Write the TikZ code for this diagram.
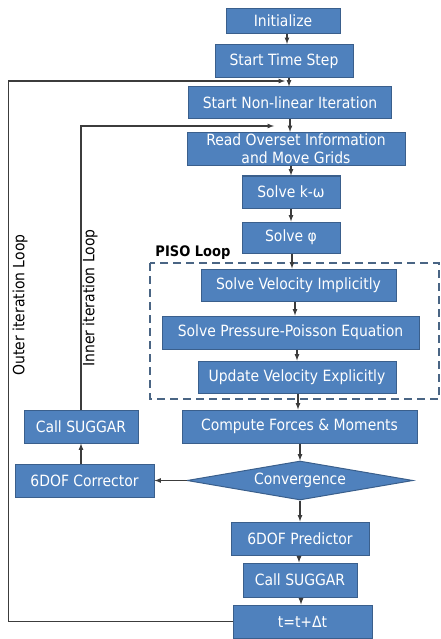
\documentclass[tikz,border=0pt]{standalone}
\usepackage{fontspec}
\setmainfont{DejaVu Sans Condensed}
\usetikzlibrary{shapes.geometric}
\definecolor{boxblue}{HTML}{4F81BD}
\definecolor{boxedge}{HTML}{3A5F8C}
\definecolor{pisoedge}{HTML}{4A6584}
\definecolor{lineg}{HTML}{3C3C3C}

\begin{document}
\begin{tikzpicture}[x=1pt,y=-1pt]
				\tikzstyle{every node}=[font=\fontsize{15.5}{18}\selectfont]
				\tikzstyle{box}=[draw=boxedge,fill=boxblue,text=white,line width=1pt,
				inner sep=0pt,minimum height=33pt]
				\tikzstyle{decision}=[box,diamond,aspect=5.8,inner sep=0pt]
				\tikzstyle{line}=[draw=lineg,line width=1.2pt]
				\tikzstyle{arr}=[line,-latex]
				\tikzstyle{looplbl}=[rotate=90,text=black]
				\useasboundingbox (0,0) rectangle (441,639);
				\node[box,minimum width=114pt,minimum height=25pt] (init) at (283,21) {Initialize};
				\node[box,minimum width=138pt] (start) at (284,61) {Start Time Step};
				\node[box,minimum width=203pt,minimum height=32pt] (nonlin) at (290,103) {Start Non-linear Iteration};
				\node[box,minimum width=218pt,align=center] (read) at (296,149)
					{Read Overset Information\\and Move Grids};
				\node[box,minimum width=98pt,minimum height=32pt] (komega) at (291,192) {Solve k-ω};
				\node[box,minimum width=98pt,minimum height=31pt] (phi) at (291,237.5) {Solve φ};
				\draw[pisoedge,line width=1.5pt,dash pattern=on 8pt off 5pt] (150,263) rectangle (439,399);
				\node[text=black,font=\fontsize{14.5}{15}\selectfont\bfseries] (pisolbl) at (193,253) {PISO Loop};
				\node[box,minimum width=195pt,minimum height=32pt] (vimp) at (298.5,285) {Solve Velocity Implicitly};
				\node[box,minimum width=257pt] (ppe) at (290.5,332.5) {Solve Pressure-Poisson Equation};
				\node[box,minimum width=198pt,minimum height=32pt] (vexp) at (297,377) {Update Velocity Explicitly};
				\node[box,minimum width=235pt] (forces) at (299.5,426.5) {Compute Forces \& Moments};
				\node[box,minimum width=114pt] (suggarc) at (81,426.5) {Call SUGGAR};
				\node[decision,minimum width=226pt,minimum height=39pt] (conv) at (300,480.5) {Convergence};
				\node[box,minimum width=139pt] (corr) at (84.5,480.5) {6DOF Corrector};
				\node[box,minimum width=138pt] (pred) at (300,538.5) {6DOF Predictor};
				\node[box,minimum width=114pt,minimum height=34pt] (suggarp) at (300,580) {Call SUGGAR};
				\node[box,minimum width=139pt] (tstep) at (302.5,621.5) {t=t+Δt};
				\node[looplbl] (outerlbl) at (20,305) {Outer iteration Loop};
				\node[looplbl] (innerlbl) at (90,298) {Inner iteration Loop};
				\coordinate (outer) at (8.5,81);
				\coordinate (outerend) at (285,81);
				\coordinate (inner) at (82,126);
				\coordinate (innerend) at (274,126);
				\draw[arr] (init.south -| 287,0) -- (start.north -| 287,0);
				\draw[arr] (start.south -| 289,0) -- (nonlin.north -| 289,0);
				\draw[arr] (nonlin.south -| 290,0) -- (read.north -| 290,0);
				\draw[arr] (read.south -| 291,0) -- (komega.north -| 291,0);
				\draw[arr] (komega) -- (phi);
				\draw[arr] (phi.south -| 292,0) -- (vimp.north -| 292,0);
				\draw[arr] (vimp.south -| 295,0) -- (ppe.north -| 295,0);
				\draw[arr] (ppe.south -| 297,0) -- (vexp.north -| 297,0);
				\draw[arr] (vexp.south -| 298,0) -- (forces.north -| 298,0);
				\draw[arr] (forces.south -| conv) -- (conv.north);
				\draw[arr] (conv.south) -- (pred.north -| conv);
				\draw[arr] (pred.south -| 299,0) -- (suggarp.north -| 299,0);
				\draw[arr] (suggarp.south -| 301,0) -- (tstep.north -| 301,0);
				\draw[arr] (conv.west) -- (corr.east);
				\draw[arr] (corr.north -| suggarc) -- (suggarc.south);
				\draw[arr] (tstep.west) -- (tstep.west -| outer) -- (outer) -- (outerend);
				\draw[arr] (suggarc.north) -- (suggarc.north |- inner) -- (innerend);
\end{tikzpicture}
\end{document}
